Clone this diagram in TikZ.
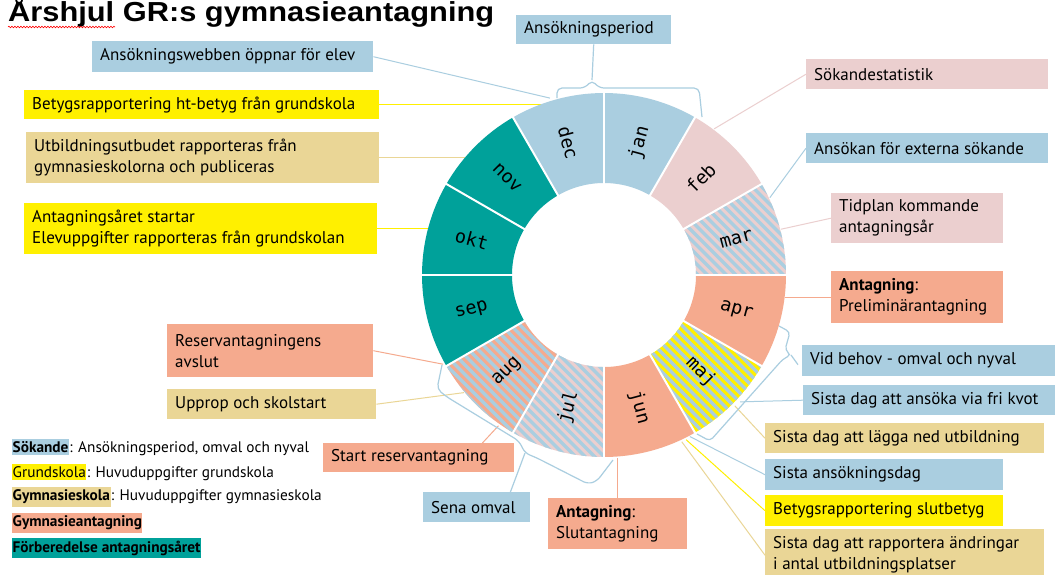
\documentclass[tikz,border=0pt]{standalone}
\usepackage{fontspec}
\setmainfont{PT Sans}
\newfontfamily\monthfont{DejaVu Sans Mono}
\newfontfamily\titlefont[FakeStretch=1.12]{Liberation Sans}
\usetikzlibrary{decorations.pathmorphing}
\definecolor{cblue}{RGB}{170,206,224}
\definecolor{cpink}{RGB}{235,207,207}
\definecolor{csalm}{RGB}{245,170,142}
\definecolor{cteal}{RGB}{0,161,154}
\definecolor{cyell}{RGB}{255,240,0}
\definecolor{ctan}{RGB}{234,214,150}
\newcommand\infobox[7]{%
  \node[boxs, fill=#6, minimum width=#4pt, minimum height=#5pt] (#1) at (#2,#3) {};
  \node[txt] (#1-t) at ([xshift=8pt]#1.west) {#7};}
\begin{document}
\begin{tikzpicture}[x=1pt,y=-1pt,
  boxs/.style={rectangle, anchor=north west, inner sep=0pt, draw=none},
  txt/.style={anchor=west, inner sep=0pt, align=left, text=black, font=\fontsize{17}{21}\selectfont},
  conn/.style={line width=1pt},
  brace/.style={draw=cblue, line width=1.2pt, rounded corners=5pt},
  mon/.style={font=\monthfont\fontsize{18.5}{18.5}\selectfont, inner sep=0pt, text=black},
  hl/.style={anchor=west, inner xsep=0.5pt, inner ysep=2.5pt, text=black, font=\fontsize{15.3}{17}\selectfont\bfseries},
  lgt/.style={anchor=base west, inner sep=0pt, text=black, font=\fontsize{15.3}{17}\selectfont},
  seg/.style={draw=white, line width=2pt}
]
\useasboundingbox (0,0) rectangle (1055,574);
\fill[white] (0,0) rectangle (1055,574);

% title
\node[anchor=base west, inner sep=0pt, font=\titlefont\fontsize{27.5}{30}\selectfont\bfseries] (title) at (8,21) {Årshjul GR:s gymnasieantagning};
\draw[red, line width=0.6pt, decorate, decoration={snake, amplitude=0.8pt, segment length=3pt}] ([yshift=-6pt]title.base west) -- ++(107,0);

% ring anchor points
\begin{scope}[shift={(604,275)}, y=1pt]
  \coordinate (p-web) at (107:185);
  \coordinate (p-ht) at (110:182);
  \coordinate (p-utb) at (140:182);
  \coordinate (p-aar) at (165:182);
  \coordinate (p-res) at (-151:184);
  \coordinate (p-upp) at (-140:183);
  \coordinate (p-srv) at (-125:184);
  \coordinate (p-slut) at (-86:183);
  \coordinate (p-stat) at (53:183);
  \coordinate (p-ext) at (25:183);
  \coordinate (p-tid) at (14.5:183);
  \coordinate (p-pre) at (-7:182);
  \coordinate (p-kvot) at (-43:186);
  \coordinate (p-lag) at (-45:185);
  \coordinate (p-sad) at (-62:183);
  \coordinate (p-sbt) at (-63.5:184);
  \coordinate (p-and) at (-65:184);
\end{scope}

% boxes
\infobox{apd}{516}{15}{155}{29}{cblue}{Ansökningsperiod}
\infobox{web}{92}{41}{281}{31}{cblue}{Ansökningswebben öppnar för elev}
\infobox{ht}{24}{90}{355}{29}{cyell}{Betygsrapportering ht-betyg från grundskola}
\infobox{utb}{26}{132}{353}{51}{ctan}{Utbildningsutbudet rapporteras från\\gymnasieskolorna och publiceras}
\infobox{aar}{24}{203}{353}{51}{cyell}{Antagningsåret startar\\Elevuppgifter rapporteras från grundskolan}
\infobox{res}{167}{324}{206}{53}{csalm}{Reservantagningens\\avslut}
\infobox{upp}{167}{389}{209}{30}{ctan}{Upprop och skolstart}
\infobox{srv}{323}{443}{191}{29}{csalm}{Start reservantagning}
\infobox{sena}{423}{492}{107}{30}{cblue}{Sena omval}
\infobox{slut}{548}{498}{139}{51}{csalm}{\textbf{Antagning}:\\Slutantagning}
\infobox{stat}{806}{59}{242}{30}{cpink}{Sökandestatistik}
\infobox{ext}{806}{133}{242}{30}{cblue}{Ansökan för externa sökande}
\infobox{tid}{831}{193}{172}{50}{cpink}{Tidplan kommande\\antagningsår}
\infobox{pre}{831}{271}{172}{52}{csalm}{\textbf{Antagning}:\\Preliminärantagning}
\infobox{vid}{802}{345}{260}{31}{cblue}{Vid behov - omval och nyval}
\infobox{kvot}{803}{385}{260}{30}{cblue}{Sista dag att ansöka via fri kvot}
\infobox{lag}{765}{423}{279}{30}{ctan}{Sista dag att lägga ned utbildning}
\infobox{sad}{765}{459}{238}{31}{cblue}{Sista ansökningsdag}
\infobox{sbt}{765}{495}{238}{31}{cyell}{Betygsrapportering slutbetyg}
\infobox{andr}{765}{529}{279}{52}{ctan}{Sista dag att rapportera ändringar\\i antal utbildningsplatser}

% connectors
\draw[conn, cblue] (web.east) -- (p-web);
\draw[conn, cyell] (ht.east) -- (ht.east -| p-ht);
\draw[conn, ctan] (utb.east) -- (utb.east -| p-utb);
\draw[conn, cyell] (aar.east) -- (aar.east -| p-aar);
\draw[conn, csalm] (res.east) -- (p-res);
\draw[conn, ctan] (upp.east) -- (p-upp);
\draw[conn, csalm] ([xshift=-32pt]srv.north east) -- (p-srv);
\draw[conn, csalm] (slut.north) -- (slut.north |- p-slut);
\draw[conn, cpink] (stat.west) -- (p-stat);
\draw[conn, cblue] (ext.west) -- (p-ext);
\draw[conn, cpink] (tid.west) -- (p-tid);
\draw[conn, csalm] (pre.west) -- (pre.west -| p-pre);
\draw[conn, cblue] (kvot.west) -- (p-kvot);
\draw[conn, ctan] (lag.west) -- (p-lag);
\draw[conn, cblue] (sad.west) -- (p-sad);
\draw[conn, cyell] (sbt.west) -- (p-sbt);
\draw[conn, ctan] (andr.west) -- (p-and);

% braces
\coordinate (tipA) at (592,80);
\coordinate (tipS) at (525,453);
\coordinate (tipM) at (791,355);
\draw[brace] (557,98) -- (557,88) -- (585,88) -- (tipA) -- (599,88) -- (699,88) -- (702,117);
\draw[conn, cblue, line width=1.2pt] (apd.south) -- (tipA);
\draw[brace] (442,365) -- (437,389) -- (447,397) -- (519,441) -- (tipS) -- (537,458) -- (588,484) -- (597,481) -- (613,460);
\draw[conn, cblue, line width=1.2pt] (tipS) -- ([xshift=-20pt]sena.north east);
\draw[brace, rounded corners=4pt] (779,326) -- (790,332) -- (785,350) -- (tipM) -- (783,359) -- (710,441) -- (697,434);
\draw[conn, cblue, line width=1.2pt] (tipM) -- ([xshift=-4pt,yshift=-4pt]vid.west);

% ring
\begin{scope}[shift={(604,275)}, y=1pt]
  \foreach \a/\b/\col in {90/60/cblue, 60/30/cpink, 0/-30/csalm, -60/-90/csalm,
      -150/-180/cteal, 180/150/cteal, 150/120/cteal, 120/90/cblue}
    \fill[\col] (\a:182) arc[start angle=\a, end angle=\b, radius=182] -- (\b:92) arc[start angle=\b, end angle=\a, radius=92] -- cycle;
  \foreach \a/\b/\base/\str in {30/0/cpink/cblue, -30/-60/cyell/cblue, -90/-120/cpink/cblue, -120/-150/csalm/cblue} {
    \begin{scope}
      \clip (\a:182) arc[start angle=\a, end angle=\b, radius=182] -- (\b:92) arc[start angle=\b, end angle=\a, radius=92] -- cycle;
      \fill[\base] (-200,-200) rectangle (200,200);
      \foreach \k in {-400,-390.5,...,400}
        \draw[\str, line width=3.4pt] ({\k-200},200) -- ({\k+200},-200);
    \end{scope}
  }
  \foreach \a in {90,60,...,-240}
    \draw[seg] (\a:91) -- (\a:183);
  \foreach \m/\ang/\rot in {jan/75/75, feb/45/45, mar/15/15, apr/-15/-15, maj/-45/-45, jun/-75/-75,
      jul/-105/75, aug/-135/45, sep/-165/15, okt/165/-15, nov/135/-45, dec/105/-75}
    \node[mon, rotate=\rot] (m-\m) at (\ang:137) {\m};
\end{scope}

% legend
\node[hl, fill=cblue] (lg1) at (12,447) {Sökande};
\node[lgt] at (lg1.base east) {: Ansökningsperiod, omval och nyval};
\node[hl, fill=cyell, font=\fontsize{15.3}{17}\selectfont] (lg2) at (12,472) {Grundskola};
\node[lgt] at (lg2.base east) {: Huvuduppgifter grundskola};
\node[hl, fill=ctan] (lg3) at (12,497) {Gymnasieskola};
\node[lgt] at (lg3.base east) {: Huvuduppgifter gymnasieskola};
\node[hl, fill=csalm] (lg4) at (12,523) {Gymnasieantagning};
\node[hl, fill=cteal] (lg5) at (12,548) {Förberedelse antagningsåret};
\end{tikzpicture}
\end{document}
